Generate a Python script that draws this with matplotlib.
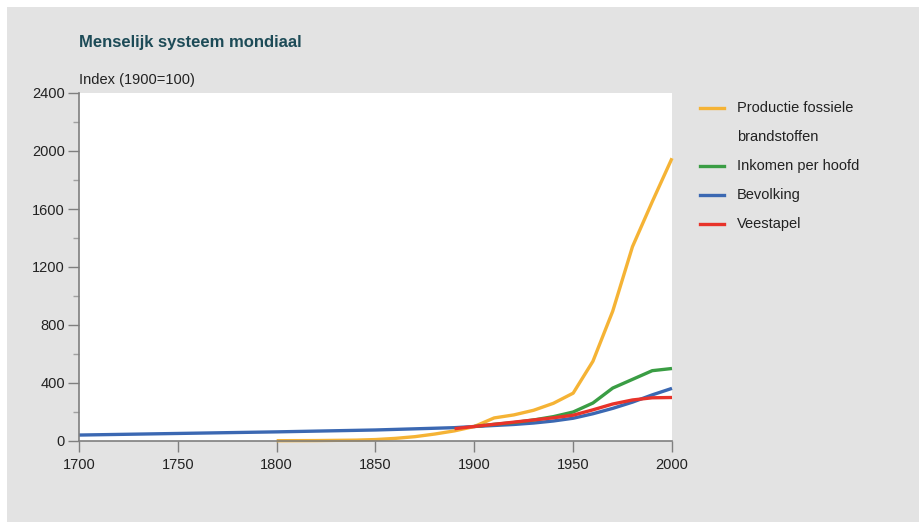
import matplotlib.pyplot as plt
from matplotlib.lines import Line2D
from matplotlib.patches import Rectangle

plt.rcParams['font.family'] = ['Liberation Sans', 'DejaVu Sans']

# Index, 1900 = 100
fossil_years = [1800, 1820, 1840, 1850, 1860, 1870, 1880, 1890, 1900,
                1910, 1920, 1930, 1940, 1950, 1960, 1970, 1980, 1990, 2000]
fossil = [2, 3, 6, 10, 18, 30, 48, 70, 100,
          159, 180, 212, 260, 330, 550, 895, 1340, 1650, 1950]

income_years = [1900, 1910, 1920, 1930, 1940, 1950, 1960, 1970, 1980, 1990, 2000]
income = [100, 115, 127, 145, 168, 200, 262, 365, 425, 485, 500]

pop_years = [1700, 1750, 1800, 1850, 1890, 1900, 1910, 1920, 1930, 1940,
             1950, 1960, 1970, 1980, 1990, 2000]
population = [41, 52, 63, 76, 92, 100, 107, 114, 124, 138,
              157, 188, 225, 268, 318, 363]

cattle_years = [1890, 1900, 1910, 1920, 1930, 1940, 1950, 1960, 1970, 1980, 1990, 2000]
cattle = [85, 100, 115, 130, 145, 160, 178, 215, 255, 283, 298, 300]

series = [
    ("Productie fossiele\nbrandstoffen", fossil_years, fossil, "#f5b335"),
    ("Inkomen per hoofd", income_years, income, "#3a9d44"),
    ("Bevolking", pop_years, population, "#3b68b2"),
    ("Veestapel", cattle_years, cattle, "#e8332a"),
]

fig = plt.figure(figsize=(9.2, 5.22), dpi=100)
fig.patch.set_facecolor("white")
fig.add_artist(Rectangle((7 / 920, 0), 1, 1 - 7 / 522, transform=fig.transFigure,
                         facecolor="#e3e3e3", edgecolor="none", zorder=-10))

ax = fig.add_axes([79 / 920, 1 - 441 / 522, (672 - 79) / 920, (441 - 93) / 522])
ax.set_facecolor("white")

# draw order: population first, fossil, income, cattle on top
for idx in [2, 0, 1, 3]:
    label, xs, ys, col = series[idx]
    ax.plot(xs, ys, color=col, lw=2.4, solid_capstyle="butt", clip_on=False)

ax.set_xlim(1700, 2000)
ax.set_ylim(0, 2400)
ax.set_xticks([1700, 1750, 1800, 1850, 1900, 1950, 2000])
ax.set_yticks([0, 400, 800, 1200, 1600, 2000, 2400])
ax.set_yticks(range(200, 2400, 400), minor=True)

for side in ["top", "right"]:
    ax.spines[side].set_visible(False)
for side in ["left", "bottom"]:
    ax.spines[side].set_color("#7f7f7f")
    ax.spines[side].set_linewidth(1.2)

ax.tick_params(axis="both", which="major", length=8, width=1, color="#7f7f7f",
               labelsize=10.5, labelcolor="#222222", pad=2)
ax.tick_params(axis="y", which="minor", length=4, width=1, color="#a0a0a0")
ax.tick_params(axis="x", which="major", pad=4)

fig.text(79 / 920, 1 - 43 / 522, "Menselijk systeem mondiaal", fontsize=12,
         fontweight="bold", color="#1d4b57", va="center", ha="left")
fig.text(79 / 920, 1 - 80 / 522, "Index (1900=100)", fontsize=10.5,
         color="#222222", va="center", ha="left")

# legend drawn by hand so the two-line entry keeps the row spacing
legend_rows = [108, 166, 195, 224]
for (label, xs, ys, col), yrow in zip(series, legend_rows):
    yf = 1 - yrow / 522
    fig.add_artist(Line2D([700 / 920, 724 / 920], [yf, yf], color=col, lw=2.4,
                          transform=fig.transFigure))
    fig.text(737 / 920, yf, label.split("\n")[0], fontsize=10.5, color="#222222",
             va="center", ha="left")
    if "\n" in label:
        fig.text(737 / 920, 1 - (yrow + 29) / 522, label.split("\n")[1],
                 fontsize=10.5, color="#222222", va="center", ha="left")

fig.savefig("out.png", dpi=100, facecolor=fig.get_facecolor())
